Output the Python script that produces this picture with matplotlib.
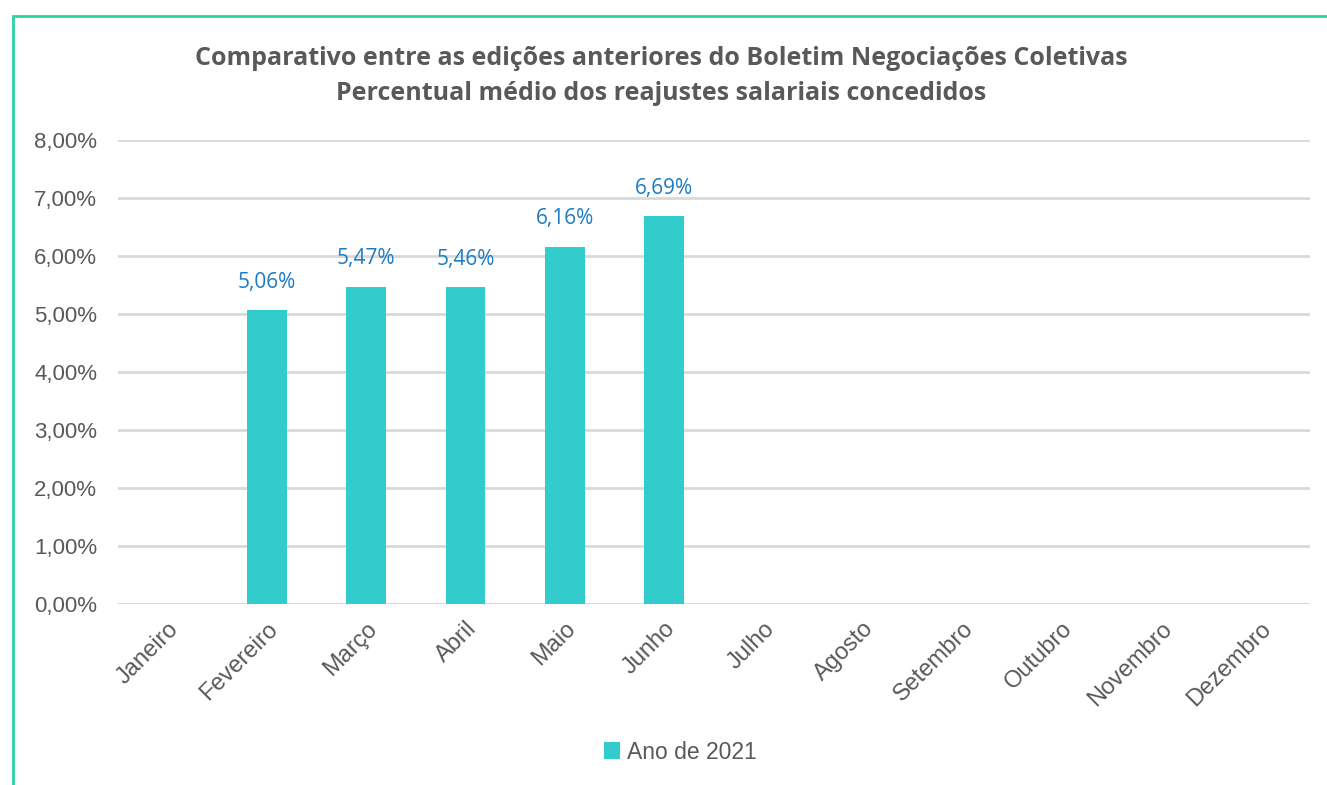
import matplotlib.pyplot as plt
from matplotlib.patches import Rectangle

meses = ["Janeiro", "Fevereiro", "Março", "Abril", "Maio", "Junho", "Julho",
         "Agosto", "Setembro", "Outubro", "Novembro", "Dezembro"]
valores = [None, 5.06, 5.47, 5.46, 6.16, 6.69, None, None, None, None, None, None]
serie = "Ano de 2021"
yticks = [0, 1, 2, 3, 4, 5, 6, 7, 8]

fig = plt.figure(figsize=(13.27, 7.85), dpi=100)
ax = fig.add_axes([0.0889, 0.2306, 0.898, 0.5911])

x = list(range(len(meses)))
h = [v if v is not None else 0 for v in valores]
bars = ax.bar(x, h, width=0.4, color="#33CCCC", label=serie, zorder=3)

for xi, v in zip(x, valores):
    if v is None:
        continue
    ax.text(xi, v + 0.3, f"{v:.2f}%".replace(".", ","), ha="center", va="bottom",
            fontsize=15, color="#1b7bc4", family="Open Sans")

ax.set_xlim(-0.5, 11.5)
ax.set_ylim(0, 8)
ax.set_yticks(yticks)
ax.set_yticklabels([f"{t:.2f}%".replace(".", ",") for t in yticks],
                   fontsize=16, color="#595959", family="Liberation Sans")
ax.set_xticks(x)
ax.set_xticklabels(meses, rotation=45, ha="right", rotation_mode="anchor",
                   fontsize=17, color="#595959", family="Liberation Sans")
ax.tick_params(length=0, axis="both")
ax.tick_params(axis="x", pad=10)
ax.tick_params(axis="y", pad=15)
for s in ax.spines.values():
    s.set_visible(False)
ax.grid(axis="y", color="#d9d9d9", linewidth=2, zorder=0)
ax.axhline(0, color="#d9d9d9", linewidth=2, zorder=1)

fig.text(0.498, 0.926, "Comparativo entre as edições anteriores do Boletim Negociações Coletivas",
         ha="center", va="center", fontsize=18, fontweight="bold", color="#595959",
         family="Open Sans")
fig.text(0.498, 0.881, "Percentual médio dos reajustes salariais concedidos",
         ha="center", va="center", fontsize=18, fontweight="bold", color="#595959",
         family="Open Sans")

leg = fig.legend(loc="center", bbox_to_anchor=(0.513, 0.042), frameon=False,
                 prop={"family": "Liberation Sans", "size": 16.5},
                 handlelength=0.7, handleheight=0.7, handletextpad=0.3)
for t in leg.get_texts():
    t.set_color("#595959")

fig.patches.append(Rectangle((13 / 1327, -0.1), 1.2, 1 - 16 / 785 + 0.1,
                             transform=fig.transFigure, fill=False,
                             edgecolor="#2bd3a3", linewidth=2))

fig.savefig("out.png", dpi=100)
